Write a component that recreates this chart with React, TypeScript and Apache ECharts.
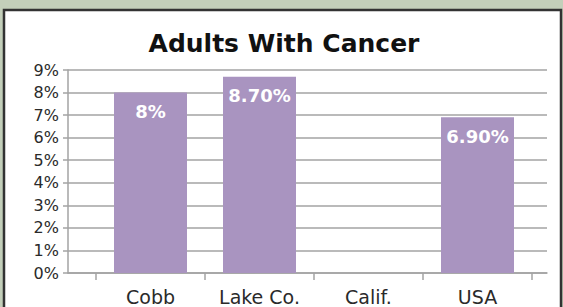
import React, { useEffect, useRef } from "react";
import * as echarts from "echarts";

const categories = ["Cobb", "Lake Co.", "Calif.", "USA"];
const values: (number | null)[] = [8, 8.7, null, 6.9];
const valueLabels = ["8%", "8.70%", "", "6.90%"];
const yTicks = [0, 1, 2, 3, 4, 5, 6, 7, 8, 9];
const title = "Adults With Cancer";

export default function App() {
  const ref = useRef<HTMLDivElement>(null);
  useEffect(() => {
    if (!ref.current) return;
    const chart = echarts.init(ref.current, null, { renderer: "svg" });
    const font = "DejaVu Sans";
    const gray = "#a3a3a3";
    const yMin = yTicks[0];
    const yMax = yTicks[yTicks.length - 1];
    chart.setOption({
      animation: false,
      backgroundColor: "#c3cfba",
      graphic: [
        {
          type: "rect",
          shape: { x: 4, y: 10, width: 557, height: 310 },
          style: { fill: "#ffffff", stroke: "#333333", lineWidth: 2.5 },
          z: -10,
          silent: true,
        },
      ],
      title: {
        text: title,
        left: 279,
        textAlign: "center",
        top: 26,
        textStyle: { fontFamily: font, fontSize: 25, fontWeight: "bold", color: "#111" },
      },
      grid: [
        { left: 68, right: 16, top: 70, bottom: 34, containLabel: false },
        { left: 96, right: 31, top: 70, bottom: 34, containLabel: false },
      ],
      xAxis: [
        {
          type: "category",
          gridIndex: 0,
          data: categories,
          axisLine: { show: true, lineStyle: { color: gray, width: 1.5 } },
          axisTick: { show: false },
          axisLabel: { show: false },
        },
        {
          type: "category",
          gridIndex: 1,
          data: categories,
          axisLine: { show: false },
          axisTick: { show: true, length: 7, lineStyle: { color: gray, width: 1.5 } },
          axisLabel: { fontFamily: font, fontSize: 19, color: "#2a2a2a", margin: 14 },
        },
      ],
      yAxis: [
        {
          type: "value",
          gridIndex: 0,
          min: yMin,
          max: yMax,
          interval: 1,
          axisLine: { show: true, lineStyle: { color: gray, width: 1.5 } },
          axisTick: { show: true, length: 5, lineStyle: { color: gray, width: 1.5 } },
          splitLine: { show: true, lineStyle: { color: gray, width: 1.5 } },
          axisLabel: {
            fontFamily: font,
            fontSize: 16,
            color: "#2a2a2a",
            margin: 9,
            formatter: "{value}%",
          },
        },
        {
          type: "value",
          gridIndex: 1,
          min: yMin,
          max: yMax,
          interval: 1,
          show: false,
        },
      ],
      series: [
        {
          type: "bar",
          xAxisIndex: 1,
          yAxisIndex: 1,
          data: values,
          barWidth: 73,
          itemStyle: { color: "#a994c0" },
          label: {
            show: true,
            position: "insideTop",
            distance: 10,
            color: "#ffffff",
            fontFamily: font,
            fontSize: 18,
            fontWeight: "bold",
            formatter: (p: any) => valueLabels[p.dataIndex],
          },
        },
      ],
    });
    return () => chart.dispose();
  }, []);
  return (
    <div
      ref={ref}
      style={{ position: "fixed", left: 0, top: 0, width: 563, height: 307 }}
    />
  );
}
